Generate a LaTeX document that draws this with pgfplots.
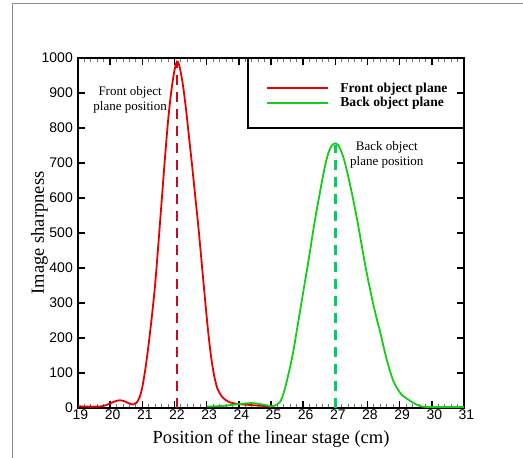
\documentclass[border=0pt]{standalone}
\usepackage{fontspec}
\setmainfont{Liberation Serif}
\newfontfamily\arialfont{Liberation Sans}
\usepackage{pgfplots}
\pgfplotsset{compat=1.18}

\definecolor{frontred}{RGB}{230,0,0}
\definecolor{backgreen}{RGB}{20,205,20}
\definecolor{frontdash}{RGB}{200,10,30}
\definecolor{backdash}{RGB}{0,205,100}
\definecolor{framegray}{RGB}{140,140,140}

\newcommand{\legfont}{\bfseries\fontsize{13.6}{15}\selectfont}

\begin{document}
\begin{tikzpicture}
\useasboundingbox (-78pt,-50pt) rectangle (445pt,408pt);
\draw[framegray, line width=1pt] (-65.3pt,-50pt) -- (-65.3pt,404.7pt) -- (445pt,404.7pt);
\begin{axis}[
  at={(0,0)}, anchor=south west,
  width=386pt, height=350pt, scale only axis,
  xmin=19, xmax=31, ymin=0, ymax=1000,
  xtick={19,...,31}, ytick={0,100,...,1000},
  minor x tick num=4,
  tick align=inside,
  tick pos=both,
  xticklabel pos=bottom, yticklabel pos=left,
  major tick length=7pt, minor tick length=4pt,
  axis line style={line width=2.1pt},
  every tick/.style={black},
  major tick style={line width=1.5pt, black},
  minor tick style={line width=0.9pt, black!55},
  /pgf/number format/assume math mode=true,
  /pgf/number format/1000 sep={},
  ticklabel style={font=\arialfont\fontsize{14}{16}\selectfont},
  xticklabel style={inner ysep=1.5pt, inner xsep=0.5pt, xshift=2.5pt, yshift=-0.5pt},
  yticklabel style={inner xsep=1pt, xshift=-4pt},
  xlabel={Position of the linear stage (cm)},
  ylabel={Image sharpness},
  label style={font=\fontsize{18.5}{22}\selectfont},
  xlabel style={at={(axis description cs:0.5,-0.1)}, anchor=base},
  ylabel style={at={(axis description cs:-0.0881,0.5)}, anchor=base, rotate=0},
  legend style={at={(0.7228,0.8929)}, anchor=center, draw=none, fill=none,
    font=\legfont,
    nodes={inner xsep=0pt, inner ysep=1.8pt}},
  legend cell align=left,
  legend image code/.code={\draw[#1] (0pt,0pt) -- (61pt,0pt); \path (72pt,0pt);},
]
% sharpness curve of the front object plane
\addplot[frontred, line width=1.8pt, smooth] coordinates {
  (19.0,5) (19.3,4) (19.6,4) (19.8,6) (20.0,13) (20.15,19) (20.3,22)
  (20.45,19) (20.6,13) (20.72,10) (20.82,15) (20.92,32) (21.0,60)
  (21.1,115) (21.2,185) (21.3,265) (21.4,355) (21.5,470) (21.6,590)
  (21.7,710) (21.8,820) (21.9,905) (22.0,965) (22.08,990) (22.15,978)
  (22.25,930) (22.35,860) (22.45,775) (22.55,690) (22.65,600) (22.75,510)
  (22.85,410) (22.95,310) (23.05,215) (23.15,138) (23.25,85) (23.35,52)
  (23.5,30) (23.7,17) (24.0,11) (24.3,9) (24.6,7) (24.85,5) (25.0,3)
};
\addlegendentry{\legfont Front object plane}
% sharpness curve of the back object plane
\addplot[backgreen, line width=1.8pt, smooth] coordinates {
  (23.0,4) (23.5,6) (24.0,11) (24.4,14) (24.8,9) (25.0,5) (25.1,6)
  (25.2,11) (25.3,20) (25.4,45) (25.5,80) (25.6,120) (25.7,165) (25.8,220)
  (25.9,275) (26.0,330) (26.1,385) (26.2,440) (26.3,500) (26.4,555)
  (26.5,605) (26.6,655) (26.7,700) (26.8,733) (26.9,751) (27.0,756)
  (27.1,750) (27.2,730) (27.3,700) (27.4,662) (27.5,620) (27.6,575)
  (27.7,527) (27.8,475) (27.9,423) (28.0,375) (28.1,330) (28.2,288)
  (28.3,250) (28.4,215) (28.5,175) (28.6,138) (28.7,105) (28.8,78)
  (28.9,60) (29.0,45) (29.1,35) (29.2,28) (29.3,22) (29.4,16) (29.5,11)
  (29.6,7) (29.7,4) (29.85,3) (30.0,3) (30.5,3) (31.0,3)
};
\addlegendentry{\legfont Back object plane}
% in-focus positions
\addplot[frontdash, line width=2.8pt, dash pattern=on 10pt off 7pt, forget plot]
  coordinates {(22.08,0) (22.08,990)};
\addplot[backdash, line width=2.8pt, dash pattern=on 10pt off 7pt, forget plot]
  coordinates {(27.0,0) (27.0,752)};
% legend frame
\draw[black, line width=1.8pt] (rel axis cs:0.4404,1) -- (rel axis cs:0.4404,0.8) -- (rel axis cs:1,0.8);
% annotations
\node[align=center, font=\fontsize{13}{15}\selectfont] at (axis cs:20.62,881) {Front object\\plane position};
\node[align=center, font=\fontsize{13}{15}\selectfont] at (axis cs:28.6,723) {Back object\\plane position};
\end{axis}
\end{tikzpicture}
\end{document}
